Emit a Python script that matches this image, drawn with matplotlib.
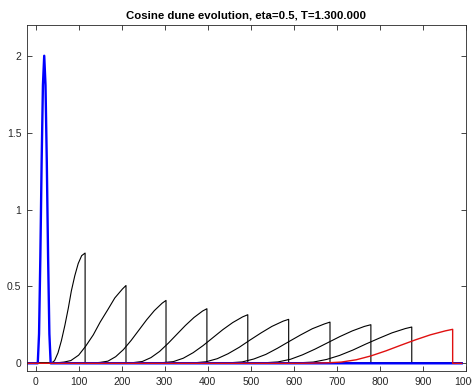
import matplotlib
matplotlib.use('Agg')
import matplotlib.pyplot as plt

plt.rcParams['font.family'] = ['Liberation Sans', 'DejaVu Sans']

# ---- data ----
domain = [-20, 990]

init_x = [5, 8, 11, 14, 17, 20, 23, 26, 29, 32, 35]
init_y = [0, 0.191, 0.691, 1.309, 1.809, 2.0, 1.809, 1.309, 0.691, 0.191, 0]

w1_x = [36, 44, 52, 60, 68, 76, 83, 91, 99, 107, 115]
w1_y = [0, 0.017, 0.068, 0.148, 0.247, 0.359, 0.470, 0.569, 0.649, 0.700, 0.717]

w2_x = [32, 48, 66, 82, 100, 116, 134, 150, 168, 184, 202, 210]
w2_y = [0, 0.003, 0.008, 0.018, 0.053, 0.110, 0.185, 0.268, 0.350, 0.425, 0.484, 0.506]

w3_x = [114, 132, 150, 168, 186, 204, 222, 240, 258, 276, 294, 303]
w3_y = [0, 0.002, 0.006, 0.014, 0.043, 0.089, 0.149, 0.216, 0.283, 0.343, 0.391, 0.409]

w4_x = [188, 208, 228, 248, 268, 288, 308, 328, 348, 368, 388, 398]
w4_y = [0, 0.002, 0.005, 0.012, 0.037, 0.077, 0.130, 0.188, 0.246, 0.298, 0.340, 0.355]

w5_x = [251, 274, 297, 320, 343, 366, 389, 412, 435, 458, 481, 493]
w5_y = [0, 0.002, 0.005, 0.011, 0.033, 0.069, 0.115, 0.167, 0.219, 0.265, 0.302, 0.316]

w6_x = [320, 345, 371, 396, 422, 447, 473, 498, 524, 549, 575, 588]
w6_y = [0, 0.002, 0.004, 0.010, 0.030, 0.062, 0.104, 0.151, 0.198, 0.240, 0.274, 0.286]

w7_x = [399, 426, 453, 480, 507, 535, 562, 589, 616, 643, 671, 684]
w7_y = [0, 0.002, 0.004, 0.009, 0.028, 0.058, 0.098, 0.142, 0.185, 0.225, 0.256, 0.268]

w8_x = [476, 505, 534, 563, 592, 620, 649, 678, 707, 736, 764, 779]
w8_y = [0, 0.002, 0.004, 0.009, 0.026, 0.055, 0.092, 0.133, 0.174, 0.211, 0.240, 0.251]

w9_x = [554, 584, 615, 645, 676, 706, 737, 767, 798, 828, 859, 874]
w9_y = [0, 0.001, 0.004, 0.008, 0.025, 0.051, 0.086, 0.125, 0.163, 0.198, 0.226, 0.236]

final_x = [607, 641, 676, 710, 745, 779, 814, 848, 883, 917, 952, 969]
final_y = [0, 0.001, 0.003, 0.008, 0.023, 0.048, 0.081, 0.117, 0.153, 0.185, 0.211, 0.221]

x_ticks = [0, 100, 200, 300, 400, 500, 600, 700, 800, 900, 1000]
y_ticks = [0, 0.5, 1, 1.5, 2]
y_tick_labels = ['0', '0.5', '1', '1.5', '2']
title = 'Cosine dune evolution, eta=0.5, T=1.300.000'


def full(xs, ys):
    """Extend a profile with zero bed outside its support."""
    return [domain[0]] + xs + [xs[-1], domain[1]], [0] + ys + [0, 0]


fig = plt.figure(figsize=(4.72, 3.85), dpi=100)
ax = fig.add_axes([27 / 472, 14 / 385, (466 - 27) / 472, (371 - 25) / 385])

for wx, wy in [(w1_x, w1_y), (w2_x, w2_y), (w3_x, w3_y), (w4_x, w4_y),
               (w5_x, w5_y), (w6_x, w6_y), (w7_x, w7_y), (w8_x, w8_y),
               (w9_x, w9_y)]:
    px, py = full(wx, wy)
    ax.plot(px, py, color='black', lw=0.8)

bx, by = full(init_x, init_y)
ax.plot(bx, by, color='#0000ff', lw=1.7)

rx, ry = full(final_x, final_y)
ax.plot(rx, ry, color='#e01010', lw=1.0)

ax.set_xlim(-20, 1000)
ax.set_ylim(-0.05, 2.2)
ax.set_xticks(x_ticks)
ax.set_xticklabels([str(t) for t in x_ticks])
ax.set_yticks(y_ticks)
ax.set_yticklabels(y_tick_labels)

axis_col = '#262626'
for s in ax.spines.values():
    s.set_color(axis_col)
    s.set_linewidth(0.6)
ax.tick_params(direction='in', top=True, right=True, length=3.5, width=0.6,
               colors=axis_col, labelsize=7.5, pad=4)

ax.set_title(title, fontsize=8.2, fontweight='bold', color='black', pad=5)

fig.savefig('out.png', dpi=100)
